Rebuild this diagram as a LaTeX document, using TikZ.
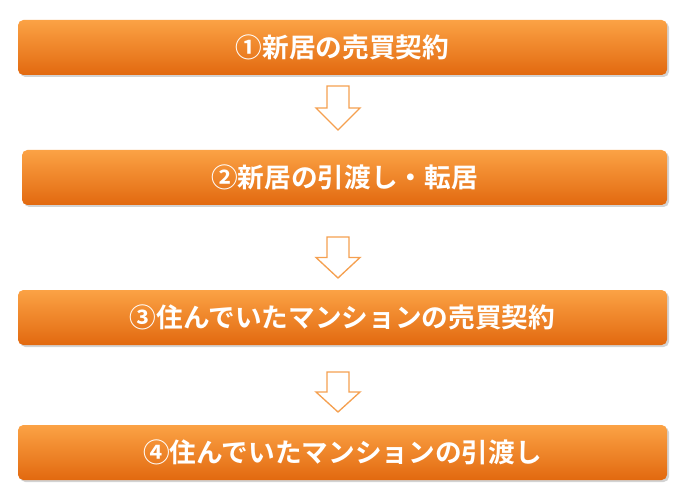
\documentclass[tikz,border=0pt]{standalone}
\usepackage{fontspec}
\newfontfamily\jp{Noto Sans CJK JP Bold}
\usetikzlibrary{shadows}
\definecolor{otop}{HTML}{FBA245}
\definecolor{obot}{HTML}{E2690F}
\definecolor{aline}{HTML}{F5A050}
\tikzset{
 stepbox/.style={rounded corners=4pt, top color=otop, bottom color=obot, draw=none,
   drop shadow={shadow xshift=1.5pt, shadow yshift=-1.5pt, opacity=0.35},
   text=white, font=\jp\fontsize{20}{24}\selectfont, inner sep=0pt},
 downarr/.style={draw=aline, fill=white, line width=1pt, line join=miter}
}
\newcommand{\darr}[3]{% x, ytop, ybot
 \draw[downarr] (#1-11,#2) -- (#1+11,#2) -- (#1+11,{#2+0.5*(#3-#2)}) -- (#1+22,{#2+0.5*(#3-#2)}) -- (#1,#3) -- (#1-22,{#2+0.5*(#3-#2)}) -- (#1-11,{#2+0.5*(#3-#2)}) -- cycle;}
\begin{document}
\begin{tikzpicture}[x=0.75pt,y=-0.75pt]
\useasboundingbox (0,0) rectangle (685,495);
\node[stepbox, minimum width=649*0.75pt, minimum height=55*0.75pt] (b1) at (342.5,47.5) {①新居の売買契約};
\node[stepbox, minimum width=645*0.75pt, minimum height=55*0.75pt] (b2) at (344.5,177.5) {②新居の引渡し・転居};
\node[stepbox, minimum width=649*0.75pt, minimum height=55*0.75pt] (b3) at (342.5,317.5) {③住んでいたマンションの売買契約};
\node[stepbox, minimum width=649*0.75pt, minimum height=55*0.75pt] (b4) at (342.5,452.5) {④住んでいたマンションの引渡し};
\darr{338}{86}{130}
\darr{338}{237}{278}
\darr{338}{372}{412}
\end{tikzpicture}
\end{document}
